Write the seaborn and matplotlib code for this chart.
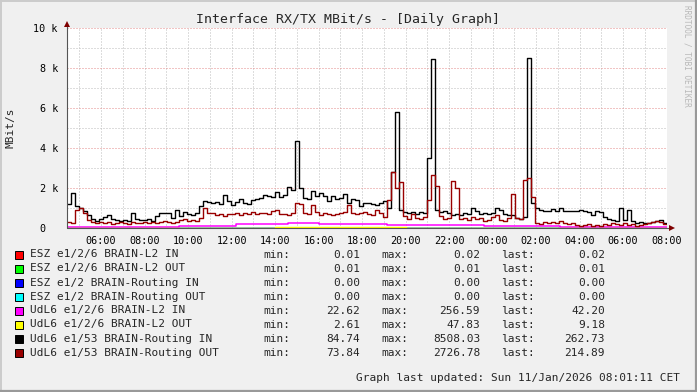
import numpy as np
import pandas as pd
import matplotlib
matplotlib.use("Agg")
import matplotlib.pyplot as plt
import seaborn as sns
from matplotlib.patches import Rectangle
from matplotlib.lines import Line2D
from matplotlib.ticker import FixedLocator, FixedFormatter, MultipleLocator

# ---------------- data ----------------
T_START = 4.43   # hours (previous day), left edge of graph
T_END = 32.02    # 08:01 next day

# UdL6 e1/53 BRAIN-Routing IN  (MBit/s), 150 consecutive samples
routing_in = [
    1200, 1750, 1100, 1000, 850, 650, 450, 350, 450, 550,
    650, 450, 400, 350, 400, 350, 750, 450, 400, 400,
    450, 350, 600, 750, 750, 750, 500, 900, 580, 800,
    700, 650, 750, 1100, 1350, 1300, 1250, 1300, 1200, 1650,
    1350, 1150, 1300, 1450, 1250, 1200, 1400, 1450, 1500, 1650,
    1600, 1550, 1800, 1550, 1650, 2050, 1900, 4370, 2000, 1500,
    1450, 1850, 1600, 1750, 1600, 1350, 1600, 1450, 1500, 1700,
    1250, 1450, 1400, 1100, 1250, 1250, 1200, 1150, 1250, 1350,
    1000, 2800, 5800, 900, 800, 750, 800, 700, 800, 750,
    3500, 8450, 900, 800, 850, 750, 650, 700, 650, 750,
    700, 1000, 850, 700, 750, 700, 750, 1000, 900, 700,
    650, 650, 500, 450, 550, 8500, 1250, 1000, 900, 850,
    850, 950, 850, 1000, 850, 850, 850, 850, 900, 850,
    800, 650, 850, 800, 550, 450, 400, 350, 1000, 400,
    900, 350, 250, 300, 250, 250, 300, 350, 400, 260,
]

# UdL6 e1/53 BRAIN-Routing OUT
routing_out = [
    300, 250, 900, 1000, 750, 400, 300, 250, 300, 250,
    300, 200, 250, 300, 250, 200, 300, 250, 250, 300,
    250, 300, 250, 300, 350, 300, 250, 300, 400, 450,
    350, 400, 350, 500, 1000, 750, 750, 650, 700, 600,
    700, 700, 750, 650, 750, 700, 800, 700, 750, 750,
    700, 850, 900, 700, 700, 650, 750, 1250, 1200, 750,
    700, 1150, 800, 650, 750, 700, 650, 700, 750, 800,
    1150, 750, 700, 750, 800, 700, 650, 900, 750, 550,
    1400, 2780, 2000, 2280, 600, 450, 700, 500, 450, 550,
    1400, 2670, 2080, 600, 450, 500, 2330, 2000, 450, 500,
    400, 550, 450, 500, 350, 400, 550, 650, 400, 350,
    500, 1700, 500, 450, 2400, 2500, 1550, 250, 200, 300,
    250, 300, 250, 350, 250, 200, 250, 150, 100, 150,
    200, 100, 150, 100, 200, 150, 250, 200, 150, 250,
    150, 200, 100, 150, 200, 250, 300, 350, 300, 215,
]

# UdL6 e1/2/6 BRAIN-L2 IN (change points)
l2_in_time = [4.43, 9.6, 12.2, 14.6, 15.2, 16.0, 19.15, 23.6, 25.0, 27.1, 27.8]
l2_in_vals = [45, 110, 205, 235, 256, 225, 165, 125, 95, 70, 42]

# UdL6 e1/2/6 BRAIN-L2 OUT (change points)
l2_out_time = [4.43, 8.0, 11.0, 14.0, 17.0, 20.0, 23.0, 26.0, 29.0]
l2_out_vals = [8, 12, 20, 35, 30, 25, 15, 12, 9]

# ESZ interfaces (essentially zero)
esz_time = [4.43]
esz_l2_in = [0.02]
esz_l2_out = [0.01]
esz_rt_in = [0.00]
esz_rt_out = [0.00]

legend_names = [
    "ESZ e1/2/6 BRAIN-L2 IN",
    "ESZ e1/2/6 BRAIN-L2 OUT",
    "ESZ e1/2 BRAIN-Routing IN",
    "ESZ e1/2 BRAIN-Routing OUT",
    "UdL6 e1/2/6 BRAIN-L2 IN",
    "UdL6 e1/2/6 BRAIN-L2 OUT",
    "UdL6 e1/53 BRAIN-Routing IN",
    "UdL6 e1/53 BRAIN-Routing OUT",
]
legend_colors = ["#FF0000", "#00FF00", "#0000FF", "#00FFFF",
                 "#FF00FF", "#FFFF00", "#000000", "#990000"]
stat_min = ["0.01", "0.01", "0.00", "0.00", "22.62", "2.61", "84.74", "73.84"]
stat_max = ["0.02", "0.01", "0.00", "0.00", "256.59", "47.83", "8508.03", "2726.78"]
stat_last = ["0.02", "0.01", "0.00", "0.00", "42.20", "9.18", "262.73", "214.89"]

y_ticks = [0, 2000, 4000, 6000, 8000, 10000]
y_tick_labels = ["0  ", "2 k", "4 k", "6 k", "8 k", "10 k"]
x_tick_hours = [6, 8, 10, 12, 14, 16, 18, 20, 22, 24, 26, 28, 30, 32]
x_tick_labels = ["%02d:00" % (h % 24) for h in x_tick_hours]

# ---------------- style ----------------
sns.set_theme(style="white")
plt.rcParams['font.family'] = ['DejaVu Sans Mono', 'DejaVu Sans']

W, H = 697, 392
fig = plt.figure(figsize=(W / 100, H / 100), dpi=100, facecolor="#F0F0F0")


def fx(px):
    return px / W


def fy(py):
    return 1 - py / H


ax = fig.add_axes([fx(67), fy(228), 600 / W, 200 / H])
ax.set_facecolor("white")
ax.set_xlim(T_START, T_END)
ax.set_ylim(0, 10000)

# grids
grid_gray = "#BDBDBD"
grid_red = "#E58A8A"
dots = (0, (1, 2))
ax.set_axisbelow(True)
ax.xaxis.set_major_locator(FixedLocator(x_tick_hours))
ax.xaxis.set_major_formatter(FixedFormatter(x_tick_labels))
ax.xaxis.set_minor_locator(MultipleLocator(1))
ax.yaxis.set_major_locator(FixedLocator(y_ticks))
ax.yaxis.set_major_formatter(FixedFormatter(y_tick_labels))
ax.yaxis.set_minor_locator(MultipleLocator(1000))
ax.grid(which="both", axis="x", color=grid_gray, lw=0.72, ls=dots)
ax.grid(which="minor", axis="y", color=grid_gray, lw=0.72, ls=dots)
ax.grid(which="major", axis="y", color=grid_red, lw=0.72, ls=dots)

for s in ax.spines.values():
    s.set_visible(False)

ax.tick_params(axis="both", which="both", colors="#606060", labelcolor="black",
               labelsize=7.3, direction="inout", length=3, width=0.7)
ax.tick_params(axis="both", which="minor", length=2)
ax.tick_params(axis="x", pad=4)
ax.tick_params(axis="y", pad=5)


def step_series(times, vals, color, lw):
    t = list(times) + [T_END]
    v = list(vals) + [vals[-1]]
    df = pd.DataFrame({"t": t, "v": v})
    sns.lineplot(data=df, x="t", y="v", ax=ax, color=color, lw=lw,
                 drawstyle="steps-post", estimator=None, sort=False,
                 legend=False)


grid_times = list(T_START + np.arange(len(routing_in)) * (T_END - T_START) / len(routing_in))

step_series(esz_time, esz_l2_in, legend_colors[0], 1.0)
step_series(esz_time, esz_l2_out, legend_colors[1], 1.0)
step_series(esz_time, esz_rt_in, legend_colors[2], 1.0)
step_series(esz_time, esz_rt_out, legend_colors[3], 1.0)
step_series(l2_in_time, l2_in_vals, legend_colors[4], 1.1)
step_series(l2_out_time, l2_out_vals, legend_colors[5], 1.0)
step_series(grid_times, routing_in, legend_colors[6], 1.0)
step_series(grid_times, routing_out, legend_colors[7], 1.0)
ax.set_xlabel("")
ax.set_ylabel("")

# axis lines and arrows (rrdtool style)
axis_col = "#555555"
fig.add_artist(Line2D([fx(67), fx(67)], [fy(228), fy(24)], color=axis_col, lw=0.8))
fig.add_artist(Line2D([fx(67), fx(671)], [fy(228), fy(228)], color=axis_col, lw=0.8))
fig.add_artist(Line2D([fx(67)], [fy(23.5)], marker="^", ms=4.5, color="#7F0000", mew=0))
fig.add_artist(Line2D([fx(672)], [fy(228)], marker=">", ms=4.5, color="#7F0000", mew=0))

# frame shading
fig.add_artist(Line2D([0, 1], [fy(0.7), fy(0.7)], color="#CBCBCB", lw=1.4))
fig.add_artist(Line2D([fx(0.7), fx(0.7)], [0, 1], color="#CBCBCB", lw=1.4))
fig.add_artist(Line2D([0, 1], [fy(H - 1), fy(H - 1)], color="#999999", lw=1.6))
fig.add_artist(Line2D([fx(W - 1), fx(W - 1)], [0, 1], color="#999999", lw=1.6))

# texts
fig.text(fx(348.5), fy(19), "Interface RX/TX MBit/s - [Daily Graph]",
         ha="center", va="center", fontsize=9.5)
fig.text(fx(10.5), fy(128), "MBit/s", rotation=90, ha="center", va="center",
         fontsize=8)
fig.text(fx(687), fy(5), "RRDTOOL / TOBI OETIKER", rotation=270, ha="center",
         va="top", fontsize=5.6, color="#B8B8B8")

for i, name in enumerate(legend_names):
    yc = 254.5 + 14 * i
    fig.add_artist(Rectangle((fx(15), fy(yc + 4)), 8 / W, 8 / H,
                             facecolor=legend_colors[i], edgecolor="black",
                             lw=0.7, transform=fig.transFigure))
    fig.text(fx(30), fy(yc), name, ha="left", va="center", fontsize=8)
    fig.text(fx(263), fy(yc), "min:", ha="left", va="center", fontsize=8)
    fig.text(fx(360), fy(yc), stat_min[i], ha="right", va="center", fontsize=8)
    fig.text(fx(381), fy(yc), "max:", ha="left", va="center", fontsize=8)
    fig.text(fx(480), fy(yc), stat_max[i], ha="right", va="center", fontsize=8)
    fig.text(fx(501), fy(yc), "last:", ha="left", va="center", fontsize=8)
    fig.text(fx(605), fy(yc), stat_last[i], ha="right", va="center", fontsize=8)

fig.text(fx(680), fy(378), "Graph last updated: Sun 11/Jan/2026 08:01:11 CET",
         ha="right", va="center", fontsize=8)

fig.savefig("out.png", dpi=100, facecolor=fig.get_facecolor())
